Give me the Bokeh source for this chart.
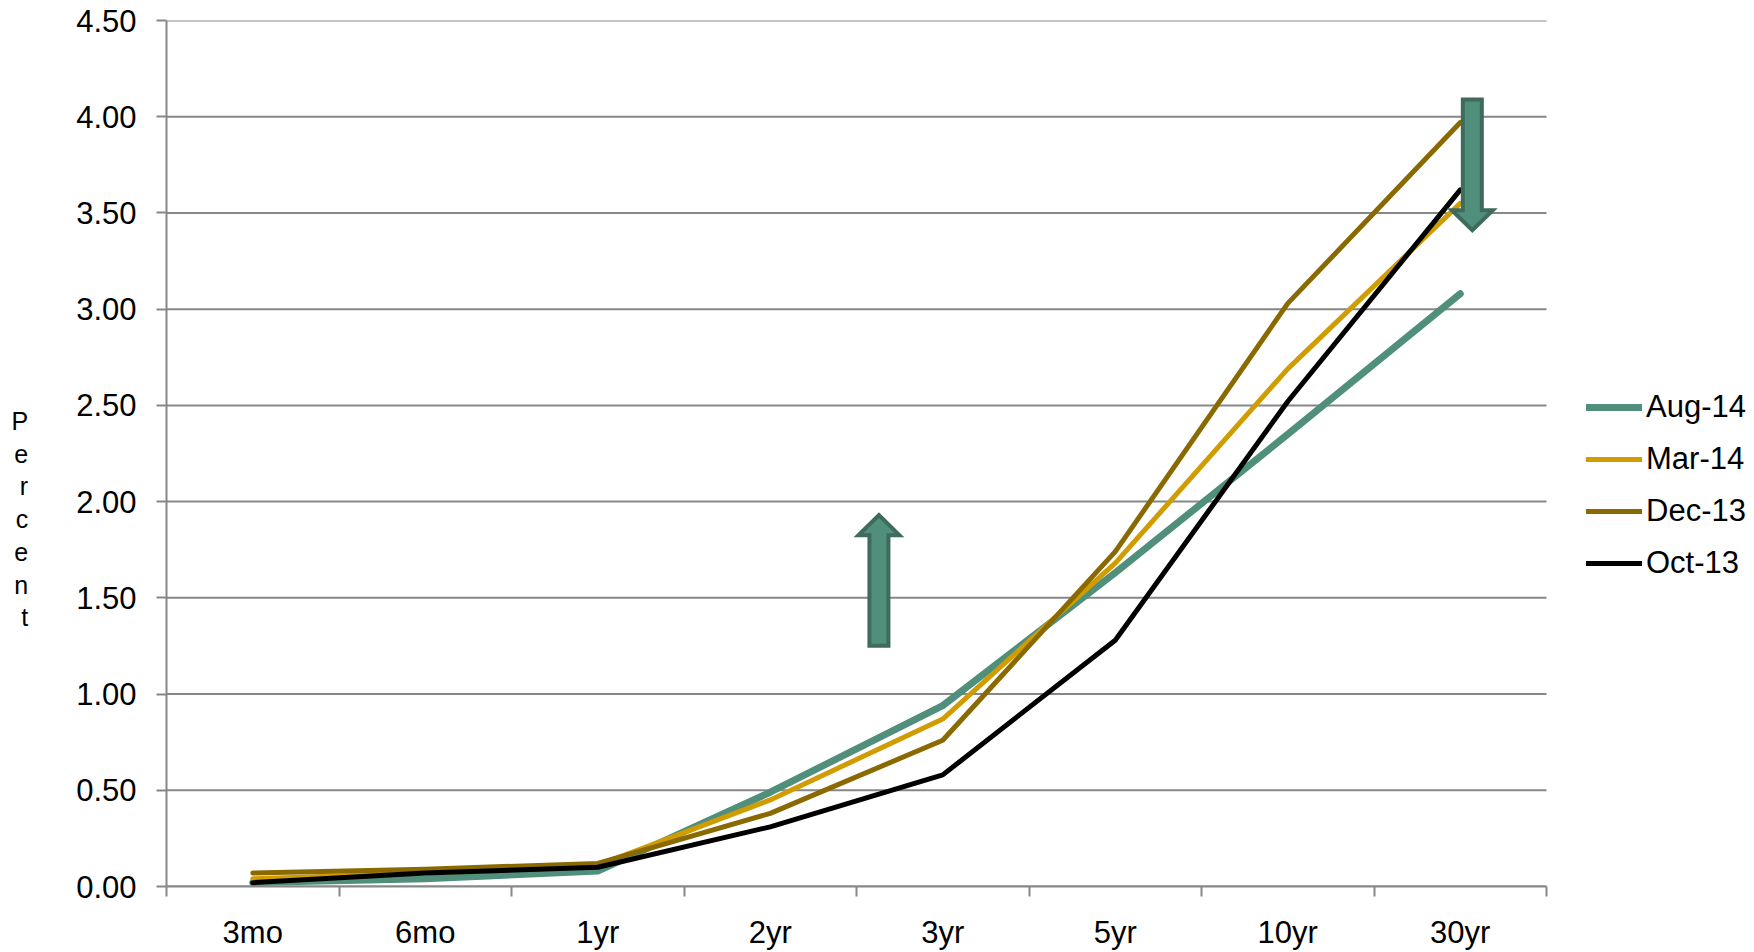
import numpy as np
from bokeh.plotting import figure
from bokeh.models import (FixedTicker, PrintfTickFormatter, Legend, LegendItem,
                          Range1d)
from bokeh.embed import file_html
from bokeh.resources import INLINE

# ---------------- data ----------------
categories = ["3mo", "6mo", "1yr", "2yr", "3yr", "5yr", "10yr", "30yr"]
aug14 = [0.02, 0.04, 0.08, 0.49, 0.94, 1.63, 2.35, 3.08]
mar14 = [0.04, 0.07, 0.11, 0.45, 0.87, 1.68, 2.69, 3.55]
dec13 = [0.07, 0.09, 0.12, 0.38, 0.76, 1.74, 3.03, 3.97]
oct13 = [0.02, 0.07, 0.10, 0.31, 0.58, 1.28, 2.52, 3.62]
series_names = ["Aug-14", "Mar-14", "Dec-13", "Oct-13"]
y_ticks = [0.0, 0.5, 1.0, 1.5, 2.0, 2.5, 3.0, 3.5, 4.0, 4.5]
y_label = "Percent"

# annotation arrows (data coords): x position, start value, end value
arrow_x = [4.13, 7.57]
arrow_start = [1.24, 4.10]
arrow_end = [1.94, 3.40]

# ---------------- styles / layout ----------------
FONT = "Liberation Sans"
FS = "31px"
colors = ["#4F8F7B", "#D09C00", "#8A6A00", "#000000"]
widths = [7, 5, 5, 5]
GRID = "#878787"

W, H = 1754, 952
LEFT, TOP, BOTTOM = 166, 20, 65
PLOT_W = 1380                      # width of the category area in px
FRAME_W = W - LEFT                 # frame runs to the right edge (room for legend)
n = len(categories)
x_end = n * FRAME_W / PLOT_W

p = figure(width=W, height=H, output_backend="svg", toolbar_location=None,
           min_border_left=LEFT, min_border_right=0, min_border_top=TOP,
           min_border_bottom=BOTTOM,
           x_range=Range1d(0, x_end), y_range=Range1d(0, 4.5))
p.outline_line_color = None
p.background_fill_color = "white"

x = np.arange(n) + 0.5

# x axis: labels at category centres, ticks at category boundaries
xa = p.xaxis[0]
xa.bounds = (0, n)
xa.ticker = FixedTicker(ticks=list(x), minor_ticks=list(range(n + 1)))
xa.major_label_overrides = {float(xi): c for xi, c in zip(x, categories)}
xa.major_tick_out = 0
xa.major_tick_in = 0
xa.minor_tick_out = 10
xa.minor_tick_in = 0
xa.minor_tick_line_color = GRID
xa.minor_tick_line_width = 2
xa.axis_line_color = GRID
xa.axis_line_width = 2
xa.major_label_text_font = FONT
xa.major_label_text_font_size = FS
xa.major_label_text_color = "black"
xa.major_label_standoff = 18

# y axis
ya = p.yaxis[0]
ya.ticker = FixedTicker(ticks=y_ticks, minor_ticks=[])
ya.formatter = PrintfTickFormatter(format="%.2f")
ya.major_tick_out = 10
ya.major_tick_in = 0
ya.major_tick_line_color = GRID
ya.major_tick_line_width = 2
ya.minor_tick_out = 0
ya.minor_tick_in = 0
ya.axis_line_color = GRID
ya.axis_line_width = 2
ya.major_label_text_font = FONT
ya.major_label_text_font_size = FS
ya.major_label_text_color = "black"
ya.major_label_standoff = 20
# stacked vertical title (leading blank lines push it below the axis middle)
ya.axis_label = "\n\n\n\n" + "\n".join(list(y_label))
ya.axis_label_orientation = "horizontal"
ya.axis_label_text_font = FONT
ya.axis_label_text_font_size = "25px"
ya.axis_label_text_font_style = "normal"
ya.axis_label_text_line_height = 1.17
ya.axis_label_text_color = "black"
ya.axis_label_standoff = 45

# horizontal grid lines limited to the category area
p.xgrid.visible = False
p.ygrid.visible = False
p.segment(x0=[0] * len(y_ticks), x1=[n] * len(y_ticks), y0=y_ticks, y1=y_ticks,
          line_color=GRID, line_width=2)

# lines
renderers = []
for vals, c, w in zip([aug14, mar14, dec13, oct13], colors, widths):
    r = p.line(x, vals, line_color=c, line_width=w, line_join="round",
               line_cap="round")
    renderers.append(r)

# block arrows
px_x = x_end / FRAME_W
px_y = 4.5 / (H - TOP - BOTTOM)
shaft_hw = 9.5 * px_x
head_hw = 20.5 * px_x
head_len = 20 * px_y
inset = 2 * px_y
xs, ys = [], []
for xc, y0, y1 in zip(arrow_x, arrow_start, arrow_end):
    s = 1 if y1 > y0 else -1
    a = y0 + s * inset
    b = y1 - s * inset
    hb = b - s * head_len
    xs.append([xc - shaft_hw, xc - shaft_hw, xc - head_hw, xc, xc + head_hw,
               xc + shaft_hw, xc + shaft_hw])
    ys.append([a, hb, hb, b, hb, hb, a])
p.patches(xs, ys, fill_color="#4F8F7B", line_color="#3E6B5C", line_width=4,
          line_join="miter")

# legend right of the category area
legend = Legend(items=[LegendItem(label=nm, renderers=[r])
                       for nm, r in zip(series_names, renderers)],
                location=(PLOT_W + 40, 305), padding=0, margin=0, spacing=16,
                glyph_width=56, glyph_height=34, label_height=34,
                label_standoff=4, border_line_color=None,
                background_fill_alpha=0,
                label_text_font=FONT, label_text_font_size=FS,
                label_text_color="black")
p.add_layout(legend)

open("out.html", "w").write(file_html(p, INLINE))
